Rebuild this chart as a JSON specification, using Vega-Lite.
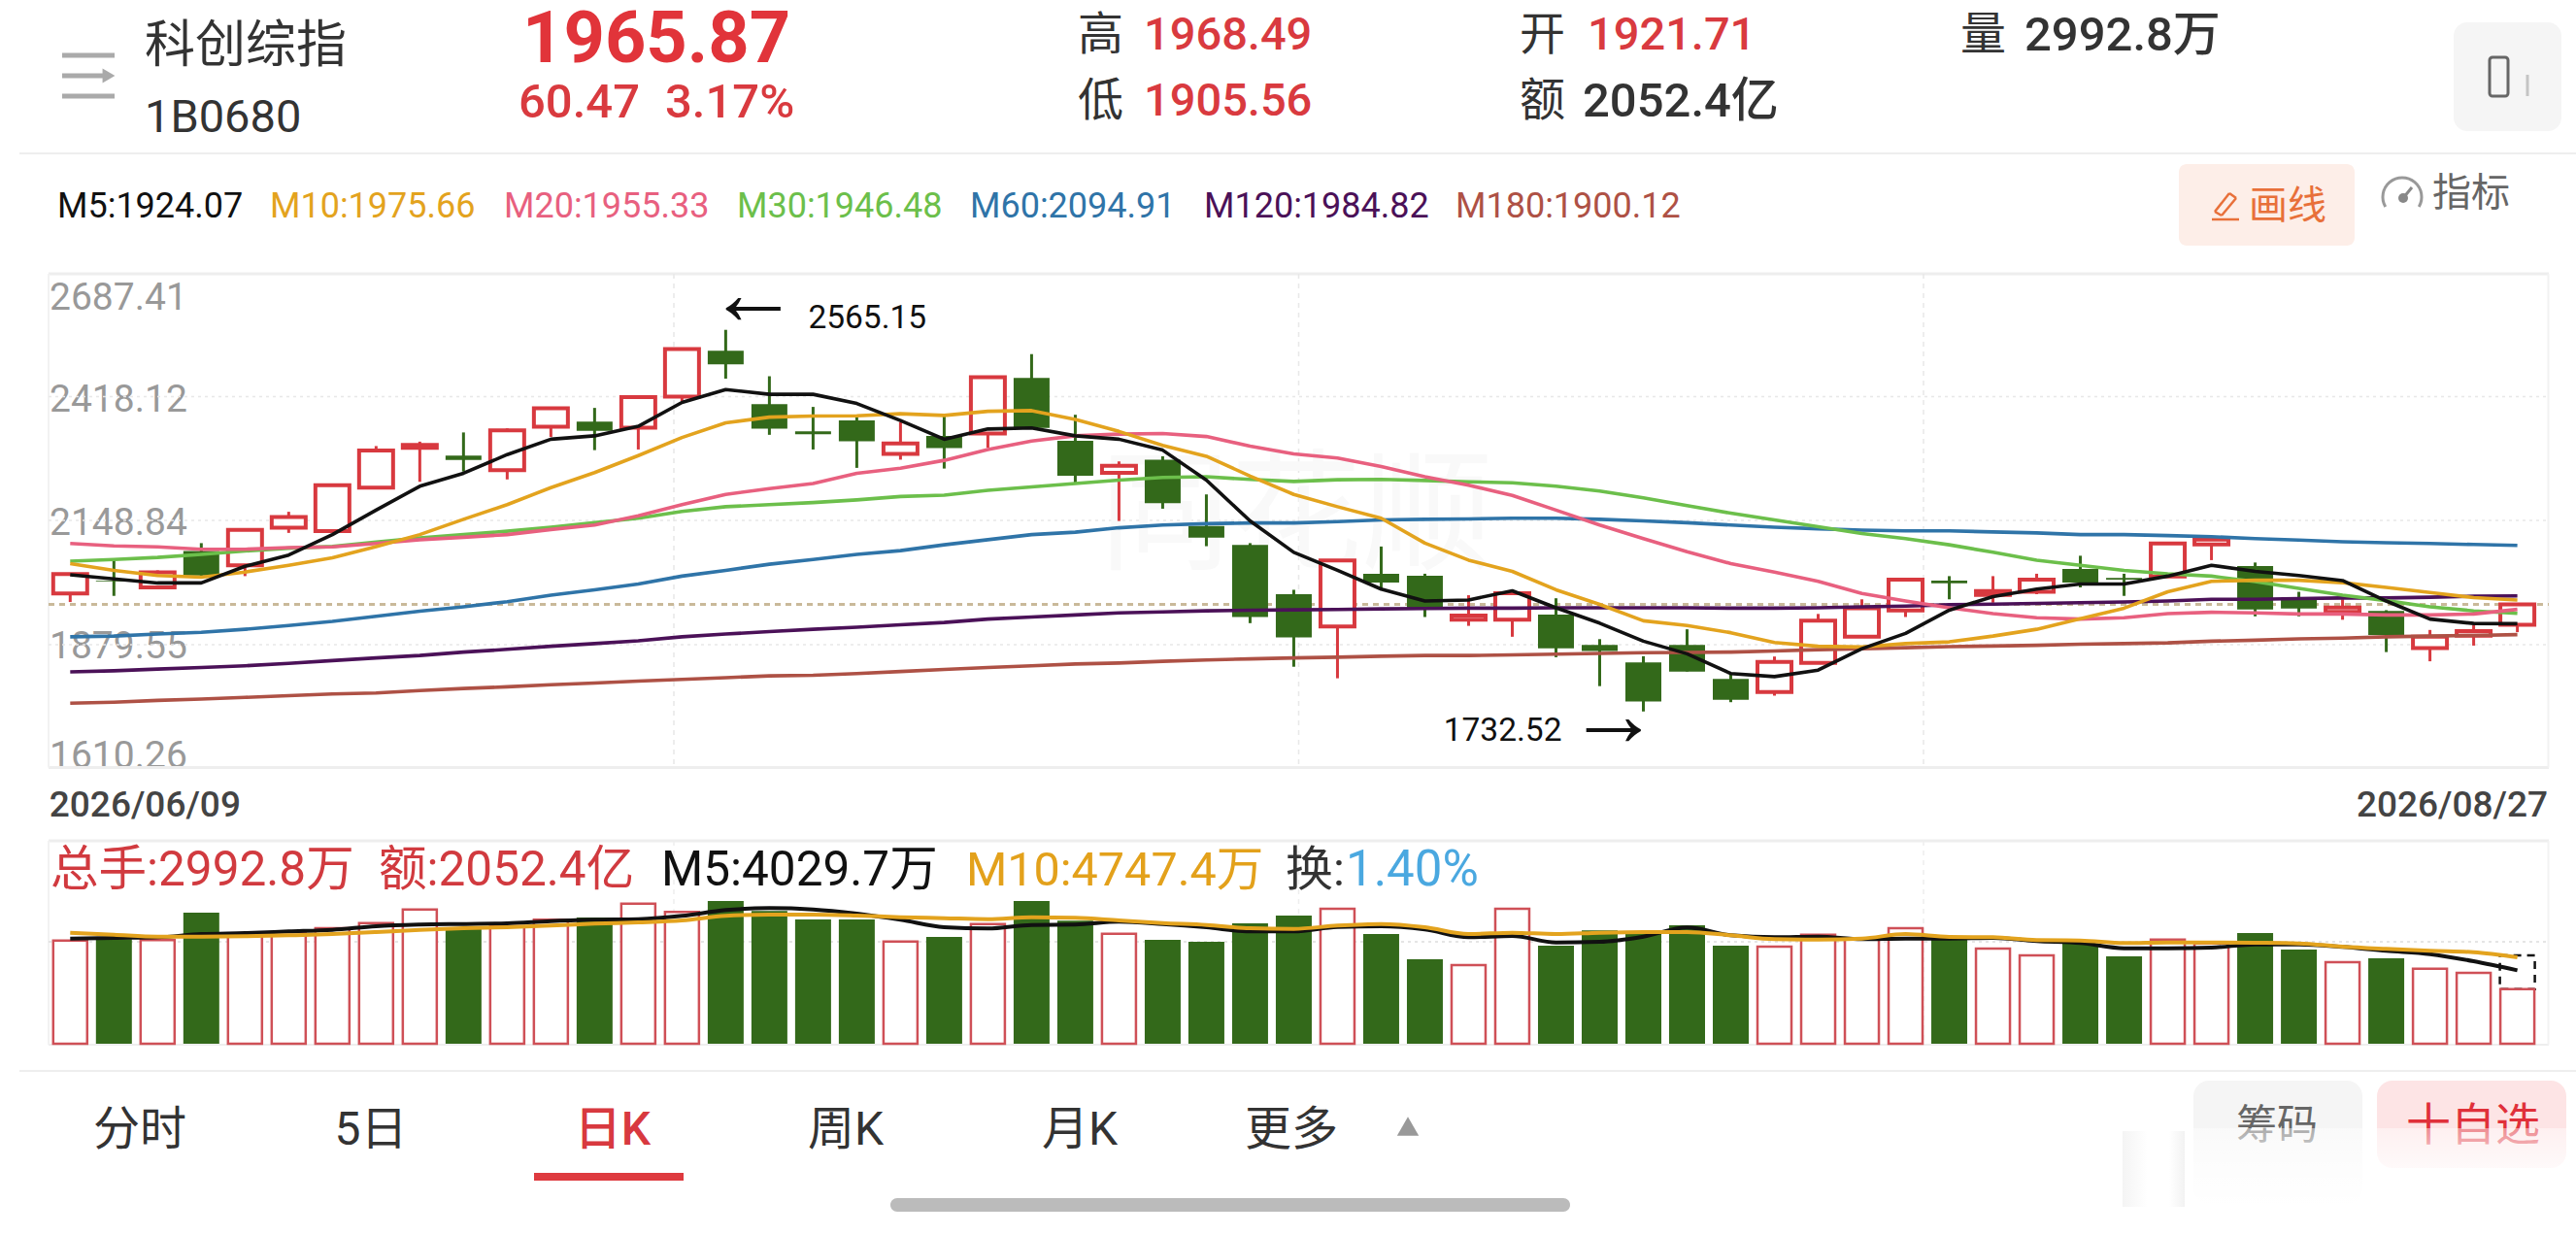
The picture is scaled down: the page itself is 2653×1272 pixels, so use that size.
{
"$schema":"https://vega.github.io/schema/vega-lite/v6.json",
"description":"科创综指 daily K line with moving averages and volume",
"width":2653,"height":1272,"padding":0,"autosize":{"type":"none"},
"background":"#ffffff",
"config":{"view":{"stroke":null},"font":"Roboto, 'Noto Sans CJK SC'"},
"datasets":{"bars":[
{"date":"2026/06/09","open":1989.9,"high":2032.2,"low":1971.3,"close":2032.2,"M5":2030.7,"M10":2055.2,"M20":2099.1,"M30":2060.4,"M60":1895.5,"M120":1819,"M180":1750.6,"vol":5669,"volM5":5775,"volM10":6095},
{"date":"2026/06/10","open":2017.4,"high":2066.4,"low":1984.7,"close":2015.9,"M5":2021.8,"M10":2040.4,"M20":2093.9,"M30":2064.2,"M60":1897,"M120":1821.2,"M180":1752.8,"vol":5740,"volM5":5811,"volM10":5988},
{"date":"2026/06/11","open":2003.2,"high":2040.4,"low":1999.5,"close":2035.9,"M5":2012.9,"M10":2029.2,"M20":2091.7,"M30":2068.6,"M60":1901.4,"M120":1824.9,"M180":1756.6,"vol":5686,"volM5":5846,"volM10":5882},
{"date":"2026/06/12","open":2082.7,"high":2099.8,"low":2025.5,"close":2029.2,"M5":2012.9,"M10":2025.5,"M20":2086.5,"M30":2075.3,"M60":1905.2,"M120":1828.6,"M180":1759.5,"vol":7197,"volM5":6024,"volM10":5882},
{"date":"2026/06/15","open":2051.5,"high":2128.8,"low":2027.8,"close":2128.8,"M5":2049.3,"M10":2036.7,"M20":2086.5,"M30":2082.7,"M60":1911.8,"M120":1832.3,"M180":1763.2,"vol":5953,"volM5":6077,"volM10":5900},
{"date":"2026/06/16","open":2133.3,"high":2168.2,"low":2122.1,"close":2157,"M5":2073.8,"M10":2051.5,"M20":2090.2,"M30":2088.7,"M60":1920,"M120":1837.5,"M180":1767,"vol":6131,"volM5":6166,"volM10":5953},
{"date":"2026/06/17","open":2125.8,"high":2226.1,"low":2122.1,"close":2226.1,"M5":2118.4,"M10":2067.9,"M20":2091.7,"M30":2092.4,"M60":1928.9,"M120":1843.5,"M180":1770.7,"vol":6344,"volM5":6255,"volM10":6024},
{"date":"2026/06/18","open":2220.9,"high":2311.6,"low":2220.9,"close":2301.9,"M5":2171.9,"M10":2092.4,"M20":2099.1,"M30":2102.1,"M60":1940.1,"M120":1849.4,"M180":1772.9,"vol":6628,"volM5":6451,"volM10":6131},
{"date":"2026/06/22","open":2307.9,"high":2321.2,"low":2233.6,"close":2313.8,"M5":2223.9,"M10":2118.4,"M20":2107.3,"M30":2111,"M60":1951.2,"M120":1854.6,"M180":1778.1,"vol":7375,"volM5":6539,"volM10":6255},
{"date":"2026/06/23","open":2290.8,"high":2341.3,"low":2255.9,"close":2281.1,"M5":2252.2,"M10":2151.8,"M20":2112.5,"M30":2118.4,"M60":1960.9,"M120":1862.1,"M180":1782.6,"vol":6397,"volM5":6575,"volM10":6344},
{"date":"2026/06/24","open":2258.8,"high":2350.2,"low":2238.8,"close":2345.8,"M5":2293,"M10":2183.8,"M20":2118.4,"M30":2125.8,"M60":1972,"M120":1868,"M180":1786.3,"vol":6451,"volM5":6610,"volM10":6397},
{"date":"2026/06/25","open":2353.9,"high":2397,"low":2331.6,"close":2394.1,"M5":2326.5,"M10":2220.9,"M20":2129.5,"M30":2134.7,"M60":1986.1,"M120":1874.7,"M180":1790.7,"vol":6806,"volM5":6735,"volM10":6486},
{"date":"2026/06/26","open":2365.1,"high":2394.8,"low":2302.7,"close":2345,"M5":2333.9,"M10":2253.6,"M20":2139.2,"M30":2144.4,"M60":1998,"M120":1880.6,"M180":1794.5,"vol":6930,"volM5":6806,"volM10":6593},
{"date":"2026/06/29","open":2351.7,"high":2418.6,"low":2304.1,"close":2418.6,"M5":2354.7,"M10":2290.8,"M20":2159.3,"M30":2154.1,"M60":2010.7,"M120":1886.6,"M180":1798.9,"vol":7694,"volM5":6841,"volM10":6664},
{"date":"2026/06/30","open":2419.3,"high":2525.6,"low":2409.7,"close":2523.3,"M5":2406.7,"M10":2330.2,"M20":2183.8,"M30":2168.9,"M60":2027.8,"M120":1895.5,"M180":1802.6,"vol":7232,"volM5":7019,"volM10":6770},
{"date":"2026/07/01","open":2519.6,"high":2565.15,"low":2458.7,"close":2489.9,"M5":2434.9,"M10":2362.1,"M20":2206.1,"M30":2179.3,"M60":2040.4,"M120":1901.4,"M180":1806.3,"vol":7837,"volM5":7339,"volM10":7019},
{"date":"2026/07/02","open":2403,"high":2463.9,"low":2336.1,"close":2349.5,"M5":2424.5,"M10":2374.7,"M20":2218.7,"M30":2183.8,"M60":2053.8,"M120":1906.7,"M180":1810.1,"vol":7286,"volM5":7446,"volM10":7090},
{"date":"2026/07/03","open":2343.5,"high":2397,"low":2304.1,"close":2337.6,"M5":2424.5,"M10":2377,"M20":2229.8,"M30":2188.2,"M60":2064.2,"M120":1911.8,"M180":1811.5,"vol":6824,"volM5":7375,"volM10":7090},
{"date":"2026/07/06","open":2367.3,"high":2374.7,"low":2264,"close":2322,"M5":2404.5,"M10":2377.7,"M20":2252.2,"M30":2194.2,"M60":2075.3,"M120":1916.3,"M180":1815.3,"vol":6824,"volM5":7144,"volM10":7037},
{"date":"2026/07/07","open":2294.5,"high":2363.6,"low":2281.9,"close":2317.5,"M5":2367.3,"M10":2382.2,"M20":2263.3,"M30":2201.6,"M60":2083.5,"M120":1921.5,"M180":1819.7,"vol":5615,"volM5":6806,"volM10":6948},
{"date":"2026/07/08","open":2333.9,"high":2378.4,"low":2262.5,"close":2307.1,"M5":2326.5,"M10":2378.4,"M20":2280.4,"M30":2204.6,"M60":2096.1,"M120":1926.7,"M180":1824.2,"vol":5864,"volM5":6397,"volM10":6895},
{"date":"2026/07/09","open":2339.1,"high":2463.2,"low":2307.9,"close":2461.7,"M5":2348.8,"M10":2387.4,"M20":2304.1,"M30":2215,"M60":2107.3,"M120":1934.1,"M180":1828.6,"vol":6575,"volM5":6326,"volM10":6841},
{"date":"2026/07/10","open":2460.2,"high":2512.2,"low":2348.8,"close":2351,"M5":2351,"M10":2388.9,"M20":2322.7,"M30":2222.4,"M60":2118.4,"M120":1938.6,"M180":1832.3,"vol":7837,"volM5":6522,"volM10":6948},
{"date":"2026/07/13","open":2322.8,"high":2379.9,"low":2229.8,"close":2246.9,"M5":2333.9,"M10":2369.5,"M20":2333.9,"M30":2229.8,"M60":2123.6,"M120":1943.1,"M180":1836.1,"vol":6753,"volM5":6539,"volM10":6913},
{"date":"2026/07/14","open":2252.9,"high":2278.1,"low":2148.1,"close":2268.5,"M5":2326.5,"M10":2343.5,"M20":2337.6,"M30":2237.3,"M60":2133.3,"M120":1947.5,"M180":1838.3,"vol":6042,"volM5":6699,"volM10":6770},
{"date":"2026/07/15","open":2281.9,"high":2289.3,"low":2174.9,"close":2186.8,"M5":2302.7,"M10":2313.1,"M20":2339.1,"M30":2243.2,"M60":2139.2,"M120":1949.7,"M180":1842,"vol":5704,"volM5":6575,"volM10":6628},
{"date":"2026/07/16","open":2137,"high":2206.1,"low":2093.1,"close":2111.7,"M5":2237.3,"M10":2289.3,"M20":2332.4,"M30":2244.7,"M60":2142.2,"M120":1952,"M180":1845,"vol":5598,"volM5":6397,"volM10":6522},
{"date":"2026/07/17","open":2096.1,"high":2099.8,"low":1925.2,"close":1938.6,"M5":2148.2,"M10":2246.2,"M20":2311.6,"M30":2238.8,"M60":2143.7,"M120":1953.5,"M180":1847.2,"vol":6610,"volM5":6166,"volM10":6344},
{"date":"2026/07/20","open":1988.4,"high":1998,"low":1830.1,"close":1894,"M5":2079.8,"M10":2206.1,"M20":2294.5,"M30":2234.3,"M60":2143.7,"M120":1954.2,"M180":1849.4,"vol":7037,"volM5":6166,"volM10":6308},
{"date":"2026/07/21","open":1917.8,"high":2061.9,"low":1804.9,"close":2061.9,"M5":2040.4,"M10":2179.3,"M20":2285.6,"M30":2238,"M60":2146.6,"M120":1954.9,"M180":1850.9,"vol":7410,"volM5":6415,"volM10":6486},
{"date":"2026/07/22","open":2033,"high":2092.4,"low":1998,"close":2013.6,"M5":1999.5,"M10":2154.1,"M20":2267,"M30":2238.8,"M60":2150.3,"M120":1956.4,"M180":1853.1,"vol":6024,"volM5":6451,"volM10":6575},
{"date":"2026/07/23","open":2028.5,"high":2033,"low":1938.6,"close":1958.7,"M5":1973.5,"M10":2099.8,"M20":2244.7,"M30":2236.5,"M60":2151.8,"M120":1957.2,"M180":1854.6,"vol":4638,"volM5":6273,"volM10":6397},
{"date":"2026/07/24","open":1932.6,"high":1986.1,"low":1919.3,"close":1941.6,"M5":1975.8,"M10":2062.7,"M20":2226.1,"M30":2233.6,"M60":2152.6,"M120":1957.9,"M180":1854.6,"vol":4318,"volM5":5846,"volM10":6024},
{"date":"2026/07/27","open":1932.6,"high":1995.8,"low":1895.5,"close":1990.6,"M5":1995.8,"M10":2038.2,"M20":2203.8,"M30":2231.3,"M60":2154.1,"M120":1957.9,"M180":1856.1,"vol":7410,"volM5":5917,"volM10":6095},
{"date":"2026/07/28","open":1943.8,"high":1979.5,"low":1850.9,"close":1870.2,"M5":1958.7,"M10":1998,"M20":2171.9,"M30":2223.9,"M60":2154.1,"M120":1958.7,"M180":1857.6,"vol":5384,"volM5":5562,"volM10":6024},
{"date":"2026/07/29","open":1877.7,"high":1890.3,"low":1787.8,"close":1864.3,"M5":1925.2,"M10":1966.1,"M20":2139.2,"M30":2213.5,"M60":2151.8,"M120":1958.7,"M180":1859.1,"vol":6220,"volM5":5598,"volM10":6095},
{"date":"2026/07/30","open":1839.8,"high":1853.1,"low":1732.52,"close":1754.3,"M5":1885.9,"M10":1930.4,"M20":2109.5,"M30":2198.6,"M60":2148.2,"M120":1958.7,"M180":1860.6,"vol":6077,"volM5":5882,"volM10":6131},
{"date":"2026/07/31","open":1877.7,"high":1911.8,"low":1819.7,"close":1819.7,"M5":1858.4,"M10":1920,"M20":2081.2,"M30":2181.6,"M60":2144.4,"M120":1958.7,"M180":1861.3,"vol":6504,"volM5":6379,"volM10":6131},
{"date":"2026/08/03","open":1803.4,"high":1813.8,"low":1752.8,"close":1758,"M5":1815.3,"M10":1904.4,"M20":2055.2,"M30":2165.2,"M60":2139.2,"M120":1957.9,"M180":1862.1,"vol":5384,"volM5":5953,"volM10":5953},
{"date":"2026/08/04","open":1775.1,"high":1852.4,"low":1767,"close":1840.5,"M5":1808.6,"M10":1882.9,"M20":2036.7,"M30":2150.3,"M60":2134.7,"M120":1957.9,"M180":1864.3,"vol":5331,"volM5":5846,"volM10":5740},
{"date":"2026/08/05","open":1838.3,"high":1945.3,"low":1838.3,"close":1930.4,"M5":1822.7,"M10":1874.7,"M20":2016.6,"M30":2135.5,"M60":2131,"M120":1958.7,"M180":1867.3,"vol":5988,"volM5":5882,"volM10":5722},
{"date":"2026/08/06","open":1895.5,"high":1977.2,"low":1895.5,"close":1957.9,"M5":1869.5,"M10":1873.2,"M20":1989.9,"M30":2120.6,"M60":2128.1,"M120":1960.9,"M180":1869.5,"vol":5740,"volM5":5740,"volM10":5775},
{"date":"2026/08/07","open":1952.7,"high":2020.3,"low":1938.6,"close":2020.3,"M5":1902.9,"M10":1880.6,"M20":1973.5,"M30":2109.5,"M60":2126.6,"M120":1962.4,"M180":1871.7,"vol":6344,"volM5":5775,"volM10":6024},
{"date":"2026/08/10","open":2018.1,"high":2027.8,"low":1977.2,"close":2012.2,"M5":1953.5,"M10":1884.4,"M20":1958.7,"M30":2096.1,"M60":2126.6,"M120":1965.3,"M180":1874,"vol":5775,"volM5":5775,"volM10":5864},
{"date":"2026/08/11","open":1986.9,"high":2027.8,"low":1969.8,"close":1995.1,"M5":1983.2,"M10":1897,"M20":1946,"M30":2079.8,"M60":2124.3,"M120":1966.8,"M180":1875.4,"vol":5224,"volM5":5811,"volM10":5846},
{"date":"2026/08/12","open":1993.6,"high":2033,"low":1988.4,"close":2020.3,"M5":1999.5,"M10":1911.8,"M20":1937.1,"M30":2062.7,"M60":2122.1,"M120":1968.3,"M180":1876.9,"vol":4851,"volM5":5633,"volM10":5686},
{"date":"2026/08/13","open":2043.4,"high":2072.3,"low":2003.2,"close":2013.6,"M5":2010.7,"M10":1934.9,"M20":1934.1,"M30":2051.5,"M60":2118.4,"M120":1969.8,"M180":1879.2,"vol":5509,"volM5":5526,"volM10":5669},
{"date":"2026/08/14","open":2024,"high":2033,"low":1984.7,"close":2020.3,"M5":2010.7,"M10":1957.9,"M20":1937.1,"M30":2040.4,"M60":2118.4,"M120":1971.3,"M180":1880.6,"vol":4798,"volM5":5242,"volM10":5526},
{"date":"2026/08/17","open":2027,"high":2099.1,"low":2025.5,"close":2099.1,"M5":2027.8,"M10":1993.6,"M20":1946,"M30":2033,"M60":2116.2,"M120":1973.5,"M180":1882.1,"vol":5722,"volM5":5242,"volM10":5562},
{"date":"2026/08/18","open":2096.8,"high":2111,"low":2062.7,"close":2107.3,"M5":2051.5,"M10":2016.6,"M20":1949,"M30":2027.8,"M60":2113.9,"M120":1977.2,"M180":1885.9,"vol":5509,"volM5":5278,"volM10":5562},
{"date":"2026/08/19","open":2050,"high":2057.5,"low":1940.1,"close":1954.9,"M5":2038.2,"M10":2018.8,"M20":1947.5,"M30":2015.9,"M60":2109.5,"M120":1977.2,"M180":1888.1,"vol":6077,"volM5":5455,"volM10":5544},
{"date":"2026/08/20","open":1980.9,"high":1993.6,"low":1940.1,"close":1957.2,"M5":2029.2,"M10":2018.8,"M20":1945.3,"M30":2001,"M60":2106.5,"M120":1978.7,"M180":1891,"vol":5171,"volM5":5455,"volM10":5509},
{"date":"2026/08/21","open":1949.7,"high":1977.2,"low":1932.6,"close":1959.4,"M5":2018.1,"M10":2013.6,"M20":1945.3,"M30":1986.1,"M60":2102.8,"M120":1980.2,"M180":1892.5,"vol":4478,"volM5":5313,"volM10":5331},
{"date":"2026/08/24","open":1952,"high":1953.5,"low":1862.1,"close":1899.2,"M5":1973.5,"M10":2003.2,"M20":1943.1,"M30":1974.3,"M60":2100.6,"M120":1980.2,"M180":1895.5,"vol":4691,"volM5":5100,"volM10":5207},
{"date":"2026/08/25","open":1871,"high":1910.4,"low":1842,"close":1895.5,"M5":1934.1,"M10":1992.1,"M20":1943.1,"M30":1960.9,"M60":2099.1,"M120":1981.7,"M180":1897,"vol":4123,"volM5":4922,"volM10":5100},
{"date":"2026/08/26","open":1897.7,"high":1920.8,"low":1876.2,"close":1908.1,"M5":1924.5,"M10":1980.9,"M20":1945.3,"M30":1952,"M60":2096.8,"M120":1983.9,"M180":1898.5,"vol":3892,"volM5":4531,"volM10":5029},
{"date":"2026/08/27","open":1921.71,"high":1968.49,"low":1905.56,"close":1965.87,"M5":1924.07,"M10":1975.66,"M20":1955.33,"M30":1946.48,"M60":2094.91,"M120":1984.82,"M180":1900.12,"vol":2992.8,"volM5":4029.7,"volM10":4747.4}
]},
"data":{"values":[{}]},
"layer":[
{"mark":{"type":"rule","stroke":"#eeeeee","strokeWidth":2},"encoding":{"x":{"value":20},"x2":{"value":2653},"y":{"value":158}}},
{"mark":{"type":"rule","stroke":"#eeeeee","strokeWidth":3},"encoding":{"x":{"value":50},"x2":{"value":2625},"y":{"value":282}}},
{"mark":{"type":"rule","stroke":"#eeeeee","strokeWidth":3},"encoding":{"x":{"value":50},"x2":{"value":2625},"y":{"value":790.5}}},
{"mark":{"type":"rule","stroke":"#f2f2f2","strokeWidth":2},"encoding":{"x":{"value":50},"y":{"value":282},"y2":{"value":790.5}}},
{"mark":{"type":"rule","stroke":"#f2f2f2","strokeWidth":2},"encoding":{"x":{"value":2624.5},"y":{"value":282},"y2":{"value":790.5}}},
{"mark":{"type":"rule","stroke":"#e8e8e8","strokeWidth":1.5,"strokeDash":[3,4]},"encoding":{"x":{"value":50},"x2":{"value":2625},"y":{"value":408.5}}},
{"mark":{"type":"rule","stroke":"#e8e8e8","strokeWidth":1.5,"strokeDash":[3,4]},"encoding":{"x":{"value":50},"x2":{"value":2625},"y":{"value":536}}},
{"mark":{"type":"rule","stroke":"#e8e8e8","strokeWidth":1.5,"strokeDash":[3,4]},"encoding":{"x":{"value":50},"x2":{"value":2625},"y":{"value":664}}},
{"mark":{"type":"rule","stroke":"#e8e8e8","strokeWidth":1.5,"strokeDash":[5,5]},"encoding":{"x":{"value":694},"y":{"value":282},"y2":{"value":790.5}}},
{"mark":{"type":"rule","stroke":"#e8e8e8","strokeWidth":1.5,"strokeDash":[5,5]},"encoding":{"x":{"value":1337.5},"y":{"value":282},"y2":{"value":790.5}}},
{"mark":{"type":"rule","stroke":"#e8e8e8","strokeWidth":1.5,"strokeDash":[5,5]},"encoding":{"x":{"value":1981},"y":{"value":282},"y2":{"value":790.5}}},
{"mark":{"type":"rule","stroke":"#eeeeee","strokeWidth":3},"encoding":{"x":{"value":50},"x2":{"value":2625},"y":{"value":866}}},
{"mark":{"type":"rule","stroke":"#eeeeee","strokeWidth":2},"encoding":{"x":{"value":50},"x2":{"value":2625},"y":{"value":1076}}},
{"mark":{"type":"rule","stroke":"#f2f2f2","strokeWidth":2},"encoding":{"x":{"value":50},"y":{"value":866},"y2":{"value":1076}}},
{"mark":{"type":"rule","stroke":"#f2f2f2","strokeWidth":2},"encoding":{"x":{"value":2624.5},"y":{"value":866},"y2":{"value":1076}}},
{"mark":{"type":"rule","stroke":"#dddddd","strokeWidth":1.5,"strokeDash":[3,4]},"encoding":{"x":{"value":50},"x2":{"value":2625},"y":{"value":970}}},
{"mark":{"type":"rule","stroke":"#eeeeee","strokeWidth":1.5,"strokeDash":[5,5]},"encoding":{"x":{"value":694},"y":{"value":866},"y2":{"value":1076}}},
{"mark":{"type":"rule","stroke":"#eeeeee","strokeWidth":1.5,"strokeDash":[5,5]},"encoding":{"x":{"value":1337.5},"y":{"value":866},"y2":{"value":1076}}},
{"mark":{"type":"rule","stroke":"#eeeeee","strokeWidth":1.5,"strokeDash":[5,5]},"encoding":{"x":{"value":1981},"y":{"value":866},"y2":{"value":1076}}},
{"mark":{"type":"rule","stroke":"#eeeeee","strokeWidth":2},"encoding":{"x":{"value":20},"x2":{"value":2653},"y":{"value":1103}}},

{"mark":{"type":"text","x":1335,"y":535,"text":"同花顺","fontSize":135,"color":"#f9f9f9"}},

{"mark":{"type":"rule","stroke":"#aaaaaa","strokeWidth":5},"encoding":{"x":{"value":64},"x2":{"value":118},"y":{"value":57}}},
{"mark":{"type":"rule","stroke":"#aaaaaa","strokeWidth":5},"encoding":{"x":{"value":64},"x2":{"value":108},"y":{"value":78}}},
{"mark":{"type":"rule","stroke":"#aaaaaa","strokeWidth":5},"encoding":{"x":{"value":64},"x2":{"value":118},"y":{"value":99}}},
{"mark":{"type":"point","shape":"triangle-right","filled":true,"color":"#aaaaaa","opacity":1,"x":112,"y":78,"size":220}},
{"mark":{"type":"text","x":149,"y":48,"text":"科创综指","align":"left","fontSize":52,"color":"#333333"}},
{"mark":{"type":"text","x":149,"y":122,"text":"1B0680","align":"left","fontSize":47,"color":"#333333"}},
{"mark":{"type":"text","x":538,"y":42,"text":"1965.87","align":"left","fontSize":74,"fontWeight":"bold","color":"#e1343a"}},
{"mark":{"type":"text","x":534,"y":106,"text":"60.47","align":"left","fontSize":49,"fontWeight":500,"color":"#d93a3f"}},
{"mark":{"type":"text","x":685,"y":106,"text":"3.17%","align":"left","fontSize":49,"fontWeight":500,"color":"#d93a3f"}},
{"mark":{"type":"text","x":1110,"y":37,"text":"高","align":"left","fontSize":47,"color":"#333333"}},
{"mark":{"type":"text","x":1178,"y":37,"text":"1968.49","align":"left","fontSize":47,"fontWeight":500,"color":"#d93a3f"}},
{"mark":{"type":"text","x":1110,"y":105,"text":"低","align":"left","fontSize":47,"color":"#333333"}},
{"mark":{"type":"text","x":1178,"y":105,"text":"1905.56","align":"left","fontSize":47,"fontWeight":500,"color":"#d93a3f"}},
{"mark":{"type":"text","x":1565,"y":37,"text":"开","align":"left","fontSize":47,"color":"#333333"}},
{"mark":{"type":"text","x":1635,"y":37,"text":"1921.71","align":"left","fontSize":47,"fontWeight":500,"color":"#d93a3f"}},
{"mark":{"type":"text","x":1565,"y":105,"text":"额","align":"left","fontSize":47,"color":"#333333"}},
{"mark":{"type":"text","x":1630,"y":105,"text":"2052.4亿","align":"left","fontSize":49,"fontWeight":500,"color":"#333333"}},
{"mark":{"type":"text","x":2019,"y":37,"text":"量","align":"left","fontSize":47,"color":"#333333"}},
{"mark":{"type":"text","x":2085,"y":37,"text":"2992.8万","align":"left","fontSize":49,"fontWeight":500,"color":"#333333"}},
{"mark":{"type":"rect","x":2527,"x2":2638,"y":23,"y2":135,"cornerRadius":14,"fill":"#f5f5f5"}},
{"mark":{"type":"rect","x":2564,"x2":2583,"y":59,"y2":99,"cornerRadius":3,"fill":"#f5f5f5","stroke":"#666666","strokeWidth":3}},
{"mark":{"type":"rule","stroke":"#c4c4c4","strokeWidth":3},"encoding":{"x":{"value":2603},"y":{"value":77},"y2":{"value":99}}},
{"mark":{"type":"text","x":59,"y":213,"text":"M5:1924.07","align":"left","fontSize":36,"color":"#111111"}},
{"mark":{"type":"text","x":278,"y":213,"text":"M10:1975.66","align":"left","fontSize":36,"color":"#e3a31e"}},
{"mark":{"type":"text","x":519,"y":213,"text":"M20:1955.33","align":"left","fontSize":36,"color":"#e8607f"}},
{"mark":{"type":"text","x":759,"y":213,"text":"M30:1946.48","align":"left","fontSize":36,"color":"#6cbf4b"}},
{"mark":{"type":"text","x":999,"y":213,"text":"M60:2094.91","align":"left","fontSize":36,"color":"#2f74a8"}},
{"mark":{"type":"text","x":1240,"y":213,"text":"M120:1984.82","align":"left","fontSize":36,"color":"#4b1158"}},
{"mark":{"type":"text","x":1499,"y":213,"text":"M180:1900.12","align":"left","fontSize":36,"color":"#ae5145"}},
{"mark":{"type":"rect","x":2244,"x2":2425,"y":169,"y2":253,"cornerRadius":8,"fill":"#fdeee8"}},
{"mark":{"type":"rule","stroke":"#e8703a","strokeWidth":2.5},"encoding":{"x":{"value":2278},"x2":{"value":2306},"y":{"value":226},"y2":{"value":226}}},
{"mark":{"type":"rule","stroke":"#e8703a","strokeWidth":2.5},"encoding":{"x":{"value":2281},"x2":{"value":2296},"y":{"value":218},"y2":{"value":199}}},
{"mark":{"type":"rule","stroke":"#e8703a","strokeWidth":2.5},"encoding":{"x":{"value":2288},"x2":{"value":2303},"y":{"value":222},"y2":{"value":204}}},
{"mark":{"type":"rule","stroke":"#e8703a","strokeWidth":2.5},"encoding":{"x":{"value":2296},"x2":{"value":2303},"y":{"value":199},"y2":{"value":204}}},
{"mark":{"type":"rule","stroke":"#e8703a","strokeWidth":2.5},"encoding":{"x":{"value":2281},"x2":{"value":2288},"y":{"value":218},"y2":{"value":222}}},
{"mark":{"type":"text","x":2316,"y":213,"text":"画线","align":"left","fontSize":40,"color":"#e8703a"}},
{"mark":{"type":"arc","x":2474,"y":203,"innerRadius":18.5,"outerRadius":21.5,"theta":-2.1,"theta2":2.1,"fill":"#999999"}},
{"mark":{"type":"point","shape":"circle","filled":true,"color":"#888888","opacity":1,"x":2475,"y":204,"size":100}},
{"mark":{"type":"rule","stroke":"#888888","strokeWidth":3},"encoding":{"x":{"value":2475},"x2":{"value":2484},"y":{"value":204},"y2":{"value":193}}},
{"mark":{"type":"text","x":2505,"y":200,"text":"指标","align":"left","fontSize":40,"color":"#666666"}},

{"data":{"name":"bars"},
 "layer":[
 {"mark":{"type":"rule","stroke":"#c9b99a","strokeWidth":2,"strokeDash":[6,5]},
  "encoding":{"x":{"value":50},"x2":{"value":2625},
   "y":{"datum":1965.87,"type":"quantitative","scale":{"domain":[1610.26,2687.41],"range":[790.5,282],"zero":false,"nice":false},
    "axis":{"values":[1610.26,1879.55,2148.84,2418.12,2687.41],"format":".2f","title":null,"offset":-50.5,"domain":false,"ticks":false,"tickSize":0,"grid":false,"labelPadding":0,"labelAlign":"left","labelFlush":true,"labelFlushOffset":0,"labelOverlap":false,"labelOffset":{"expr":"datum.value>2600?5:datum.value<1700?8:2.5"},"labelFont":"Roboto","labelFontSize":39,"labelColor":"#999999"}}}},
 {"transform":[{"filter":"datum.close>=datum.open"}],
  "mark":{"type":"rule","stroke":"#d8393f","strokeWidth":3},
  "encoding":{"x":{"field":"date","type":"ordinal","scale":{"type":"point","range":[72.3,2592.6],"padding":0},
    "axis":{"values":["2026/06/09","2026/08/27"],"title":null,"domain":false,"ticks":false,"tickSize":0,"grid":false,"orient":"bottom","offset":-443,"labelPadding":0,"labelAngle":0,"labelBaseline":"middle","labelAlign":{"expr":"datum.value=='2026/06/09'?'left':'right'"},"labelOffset":{"expr":"datum.value=='2026/06/09'?-22:31"},"labelOverlap":false,"labelLimit":400,"labelFont":"Roboto","labelFontSize":37,"labelFontWeight":500,"labelColor":"#444444"}},
   "y":{"field":"low","type":"quantitative","scale":{"domain":[1610.26,2687.41],"range":[790.5,282],"zero":false,"nice":false}},"y2":{"field":"high"}}},
 {"transform":[{"filter":"datum.close<datum.open"}],
  "mark":{"type":"rule","stroke":"#33691a","strokeWidth":3},
  "encoding":{"x":{"field":"date","type":"ordinal"},
   "y":{"field":"low","type":"quantitative","scale":{"domain":[1610.26,2687.41],"range":[790.5,282],"zero":false,"nice":false}},"y2":{"field":"high"}}},
 {"transform":[{"filter":"datum.close>=datum.open"}],
  "mark":{"type":"bar","width":35,"fill":"#ffffff","stroke":"#d8393f","strokeWidth":4},
  "encoding":{"x":{"field":"date","type":"ordinal"},
   "y":{"field":"open","type":"quantitative","scale":{"domain":[1610.26,2687.41],"range":[790.5,282],"zero":false,"nice":false}},"y2":{"field":"close"}}},
 {"transform":[{"filter":"datum.close<datum.open"}],
  "mark":{"type":"bar","width":37,"fill":"#33691a"},
  "encoding":{"x":{"field":"date","type":"ordinal"},
   "y":{"field":"open","type":"quantitative","scale":{"domain":[1610.26,2687.41],"range":[790.5,282],"zero":false,"nice":false}},"y2":{"field":"close"}}},
 {"transform":[{"fold":["M180","M120","M60","M30","M20","M10","M5"],"as":["ma","price"]}],
  "mark":{"type":"line","strokeWidth":3.6,"strokeJoin":"round"},
  "encoding":{"x":{"field":"date","type":"ordinal"},
   "y":{"field":"price","type":"quantitative","scale":{"domain":[1610.26,2687.41],"range":[790.5,282],"zero":false,"nice":false}},
   "color":{"field":"ma","type":"nominal","legend":null,"scale":{"domain":["M5","M10","M20","M30","M60","M120","M180"],"range":["#111111","#e3a31e","#e8607f","#6cbf4b","#2f74a8","#4b1158","#ae5145"]}},
   "order":{"field":"date"}}},
 {"transform":[{"filter":"datum.high==2565.15"}],
  "mark":{"type":"text","align":"left","dx":85,"dy":-12,"fontSize":33.5,"color":"#111111"},
  "encoding":{"x":{"field":"date","type":"ordinal"},
   "y":{"field":"high","type":"quantitative","scale":{"domain":[1610.26,2687.41],"range":[790.5,282],"zero":false,"nice":false}},
   "text":{"field":"high","format":".2f"}}},
 {"transform":[{"filter":"datum.high==2565.15"}],
  "mark":{"type":"text","align":"left","text":"←","font":"Liberation Sans","dx":-19,"dy":-35,"fontSize":95,"color":"#111111"},
  "encoding":{"x":{"field":"date","type":"ordinal"},
   "y":{"field":"high","type":"quantitative","scale":{"domain":[1610.26,2687.41],"range":[790.5,282],"zero":false,"nice":false}}}},
 {"transform":[{"filter":"datum.low==1732.52"}],
  "mark":{"type":"text","align":"right","dx":-84,"dy":20,"fontSize":33.5,"color":"#111111"},
  "encoding":{"x":{"field":"date","type":"ordinal"},
   "y":{"field":"low","type":"quantitative","scale":{"domain":[1610.26,2687.41],"range":[790.5,282],"zero":false,"nice":false}},
   "text":{"field":"low","format":".2f"}}},
 {"transform":[{"filter":"datum.low==1732.52"}],
  "mark":{"type":"text","align":"right","text":"→","font":"Liberation Sans","dx":17,"dy":6,"fontSize":95,"color":"#111111"},
  "encoding":{"x":{"field":"date","type":"ordinal"},
   "y":{"field":"low","type":"quantitative","scale":{"domain":[1610.26,2687.41],"range":[790.5,282],"zero":false,"nice":false}}}}
 ]},

{"mark":{"type":"text","x":52,"y":897,"text":"总手:2992.8万","align":"left","fontSize":49.5,"color":"#d13a3f"}},
{"mark":{"type":"text","x":390,"y":897,"text":"额:2052.4亿","align":"left","fontSize":49.5,"color":"#d13a3f"}},
{"mark":{"type":"text","x":681,"y":897,"text":"M5:4029.7万","align":"left","fontSize":49.5,"color":"#111111"}},
{"mark":{"type":"text","x":995,"y":897,"text":"M10:4747.4万","align":"left","fontSize":48.5,"color":"#e3a11b"}},
{"mark":{"type":"text","x":1324,"y":897,"text":"换:","align":"left","fontSize":49,"color":"#333333"}},
{"mark":{"type":"text","x":1386,"y":897,"text":"1.40%","align":"left","fontSize":51,"color":"#4aa8e0"}},

{"data":{"name":"bars"},
 "layer":[
 {"transform":[{"filter":"datum.close<datum.open"}],
  "mark":{"type":"bar","width":37,"fill":"#33691a"},
  "encoding":{"x":{"field":"date","type":"ordinal"},
   "y":{"field":"vol","type":"quantitative","scale":{"domain":[0,7837],"range":[1075,928],"zero":false,"nice":false},"axis":null}}},
 {"transform":[{"filter":"datum.date=='2026/08/27'"}],
  "mark":{"type":"bar","width":36,"fill":"#ffffff","stroke":"#111111","strokeWidth":2.5,"strokeDash":[8,6]},
  "encoding":{"x":{"field":"date","type":"ordinal"},
   "y":{"field":"vol","type":"quantitative","scale":{"domain":[0,7837],"range":[1075,928],"zero":false,"nice":false},"axis":null},"y2":{"datum":4850}}},
 {"transform":[{"filter":"datum.close>=datum.open"}],
  "mark":{"type":"bar","width":35,"fill":"#ffffff","stroke":"#cf5057","strokeWidth":2.5},
  "encoding":{"x":{"field":"date","type":"ordinal"},
   "y":{"field":"vol","type":"quantitative","scale":{"domain":[0,7837],"range":[1075,928],"zero":false,"nice":false},"axis":null}}},
 {"mark":{"type":"line","stroke":"#111111","strokeWidth":4,"interpolate":"monotone"},
  "encoding":{"x":{"field":"date","type":"ordinal"},
   "y":{"field":"volM5","type":"quantitative","scale":{"domain":[0,7837],"range":[1075,928],"zero":false,"nice":false},"axis":null}}},
 {"mark":{"type":"line","stroke":"#e3a31e","strokeWidth":4,"interpolate":"monotone"},
  "encoding":{"x":{"field":"date","type":"ordinal"},
   "y":{"field":"volM10","type":"quantitative","scale":{"domain":[0,7837],"range":[1075,928],"zero":false,"nice":false},"axis":null}}}
 ]},

{"mark":{"type":"text","x":144,"y":1165,"text":"分时","fontSize":48,"color":"#333333"}},
{"mark":{"type":"text","x":382,"y":1165,"text":"5日","fontSize":48,"color":"#333333"}},
{"mark":{"type":"text","x":631,"y":1165,"text":"日K","fontSize":48,"fontWeight":500,"color":"#d8393f"}},
{"mark":{"type":"text","x":871,"y":1165,"text":"周K","fontSize":48,"color":"#333333"}},
{"mark":{"type":"text","x":1112,"y":1165,"text":"月K","fontSize":48,"color":"#333333"}},
{"mark":{"type":"text","x":1330,"y":1165,"text":"更多","fontSize":48,"color":"#333333"}},
{"mark":{"type":"point","shape":"triangle-up","filled":true,"color":"#999999","opacity":1,"x":1450,"y":1160,"size":500}},
{"mark":{"type":"rect","x":550,"x2":704,"y":1208,"y2":1216,"fill":"#de3a3f"}},
{"mark":{"type":"rect","x":917,"x2":1617,"y":1234,"y2":1248,"cornerRadius":7,"fill":"#bbbbbb"}},
{"mark":{"type":"rect","x":2259,"x2":2433,"y":1113,"y2":1240,"cornerRadius":16,"fill":"#f5f5f5"}},
{"mark":{"type":"rect","x":2448,"x2":2643,"y":1113,"y2":1203,"cornerRadius":16,"fill":"#fde4e5"}},
{"mark":{"type":"text","x":2345,"y":1160,"text":"筹码","fontSize":42,"color":"#666666"}},
{"mark":{"type":"text","x":2547,"y":1160,"text":"十自选","fontSize":46,"color":"#e0303a"}},
{"mark":{"type":"rect","x":2186,"x2":2653,"y":1162,"y2":1243,"fill":{"gradient":"linear","x1":0,"y1":0,"x2":0,"y2":1,"stops":[{"offset":0,"color":"rgba(255,255,255,0.45)"},{"offset":0.5,"color":"rgba(255,255,255,0.8)"},{"offset":1,"color":"#ffffff"}]}}},
{"mark":{"type":"rect","x":2186,"x2":2250,"y":1165,"y2":1243,"fill":{"gradient":"linear","x1":0,"y1":0,"x2":1,"y2":0,"stops":[{"offset":0,"color":"#f4f4f4"},{"offset":0.4,"color":"#ffffff"},{"offset":0.75,"color":"#ffffff"},{"offset":1,"color":"#f2f2f2"}]}}}
],
"resolve":{"scale":{"y":"independent"},"axis":{"y":"independent"}}
}
